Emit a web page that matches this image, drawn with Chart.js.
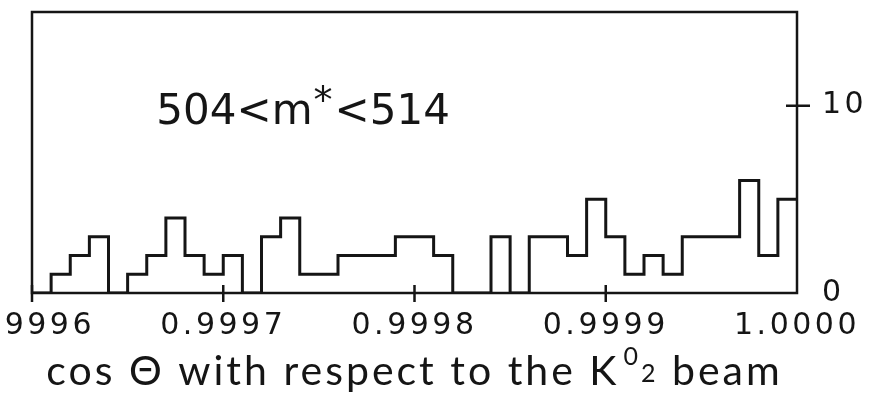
<!DOCTYPE html>
<html>
<head>
<meta charset="utf-8">
<script src="https://cdn.jsdelivr.net/npm/chart.js@4.4.1/dist/chart.umd.min.js"></script>
<style>
html, body { margin: 0; padding: 0; background: #fff; overflow: hidden; }
#wrap { position: relative; width: 872px; height: 395px; overflow: hidden; }
#wrap canvas { position: absolute; left: -60px; top: 0; }
</style>
</head>
<body>
<div id="wrap"><canvas id="histChart" width="932" height="395"></canvas></div>
<script>
// histogram: 40 bins of width 0.00001 starting at 0.9996
const binStart = 0.9996;
const binWidth = 0.00001;
const counts = [0, 1, 2, 3, 0, 1, 2, 4, 2, 1,
                2, 0, 3, 4, 1, 1, 2, 2, 2, 3,
                3, 2, 0, 0, 3, 0, 3, 3, 2, 5,
                3, 1, 2, 1, 3, 3, 3, 6, 2, 5];
const xTicks = [0.9996, 0.9997, 0.9998, 0.9999, 1.0000];
const xTickLabels = ['0.9996', '0.9997', '0.9998', '0.9999', '1.0000'];
const yTicks = [0, 10];
const yTickLabels = ['0', '10'];
const massCut = ['504<m', '*', '<514'];
const axisTitle = ['cos \u0398 with respect to the K', '0', '2', ' beam'];

const ink = '#151515';

// left edge of each bin, plus closing point at the right end
const points = counts.map((c, i) => ({ x: binStart + i * binWidth, y: c }));
points.push({ x: binStart + counts.length * binWidth, y: counts[counts.length - 1] });

const framePlugin = {
  id: 'frame',
  beforeDraw(chart) {
    chart.ctx.letterSpacing = '3.5px';
  },
  afterDraw(chart) {
    const { ctx, chartArea: a, scales: { x, y } } = chart;
    ctx.save();
    ctx.letterSpacing = '0px';
    ctx.strokeStyle = ink;
    ctx.lineWidth = 2.5;
    ctx.strokeRect(a.left, a.top, a.right - a.left, a.bottom - a.top);

    // ticks crossing the axes
    ctx.beginPath();
    x.ticks.forEach(t => {
      if (t.value >= x.max) return;
      const px = x.getPixelForValue(t.value);
      ctx.moveTo(px, a.bottom - 8);
      ctx.lineTo(px, a.bottom + 9);
    });
    y.ticks.forEach(t => {
      if (t.value <= y.min) return;
      const py = y.getPixelForValue(t.value);
      ctx.moveTo(a.right - 11, py);
      ctx.lineTo(a.right + 13, py);
    });
    ctx.stroke();

    // mass window label
    ctx.fillStyle = ink;
    ctx.textBaseline = 'alphabetic';
    ctx.textAlign = 'left';
    let tx = x.getPixelForValue(0.999665);
    const ty = y.getPixelForValue(9);
    ctx.font = '42px "DejaVu Sans"';
    ctx.fillText(massCut[0], tx, ty);
    tx += ctx.measureText(massCut[0]).width + 1;
    ctx.font = '38px "DejaVu Sans"';
    ctx.fillText(massCut[1], tx, ty - 11);
    tx += ctx.measureText(massCut[1]).width + 2;
    ctx.font = '42px "DejaVu Sans"';
    ctx.fillText(massCut[2], tx, ty);

    // axis title with K0_2
    const main = '41px Lato';
    const small = '25px Lato';
    ctx.letterSpacing = '3px';
    ctx.font = main;
    const w0 = ctx.measureText(axisTitle[0]).width;
    const w3 = ctx.measureText(axisTitle[3]).width;
    ctx.font = small;
    const w1 = ctx.measureText(axisTitle[1]).width;
    const w2 = ctx.measureText(axisTitle[2]).width;
    const total = w0 + 4 + w1 + w2 + w3;
    let cx = (a.left + a.right) / 2 - total / 2;
    const base = chart.height - 10;
    ctx.font = main;
    ctx.fillText(axisTitle[0], cx, base);
    cx += w0 + 4;
    ctx.font = small;
    ctx.fillText(axisTitle[1], cx, base - 20);
    cx += w1;
    ctx.fillText(axisTitle[2], cx, base - 3);
    cx += w2;
    ctx.font = main;
    ctx.fillText(axisTitle[3], cx, base);
    ctx.restore();
    ctx.letterSpacing = '0px';
  }
};

const histCtx = document.getElementById('histChart').getContext('2d');
new Chart(histCtx, {
  type: 'line',
  data: {
    datasets: [{
      data: points,
      stepped: 'before',
      borderColor: ink,
      borderWidth: 3,
      pointRadius: 0,
      fill: false
    }]
  },
  options: {
    responsive: false,
    animation: false,
    devicePixelRatio: 1,
    layout: { padding: { left: 92, right: 0, top: 12, bottom: 40 } },
    plugins: { legend: { display: false }, tooltip: { enabled: false } },
    scales: {
      x: {
        type: 'linear',
        position: 'bottom',
        min: xTicks[0],
        max: xTicks[xTicks.length - 1],
        afterBuildTicks: s => { s.ticks = xTicks.map(v => ({ value: v })); },
        afterFit: s => { s.height = 62; s.paddingLeft = 0; s.paddingRight = 0; },
        grid: { display: false },
        border: { display: false },
        ticks: {
          color: ink,
          font: { family: 'DejaVu Sans', size: 30 },
          padding: 7,
          maxRotation: 0,
          autoSkip: false,
          callback: (v, i) => xTickLabels[i]
        }
      },
      y: {
        position: 'right',
        min: 0,
        max: 15,
        afterBuildTicks: s => { s.ticks = yTicks.map(v => ({ value: v })); },
        afterFit: s => { s.width = 75; s.paddingTop = 0; s.paddingBottom = 0; },
        grid: { display: false },
        border: { display: false },
        ticks: {
          color: ink,
          font: { family: 'DejaVu Sans', size: 30 },
          padding: 17,
          callback: (v, i) => yTickLabels[i]
        }
      }
    }
  },
  plugins: [framePlugin]
});
</script>
</body>
</html>
